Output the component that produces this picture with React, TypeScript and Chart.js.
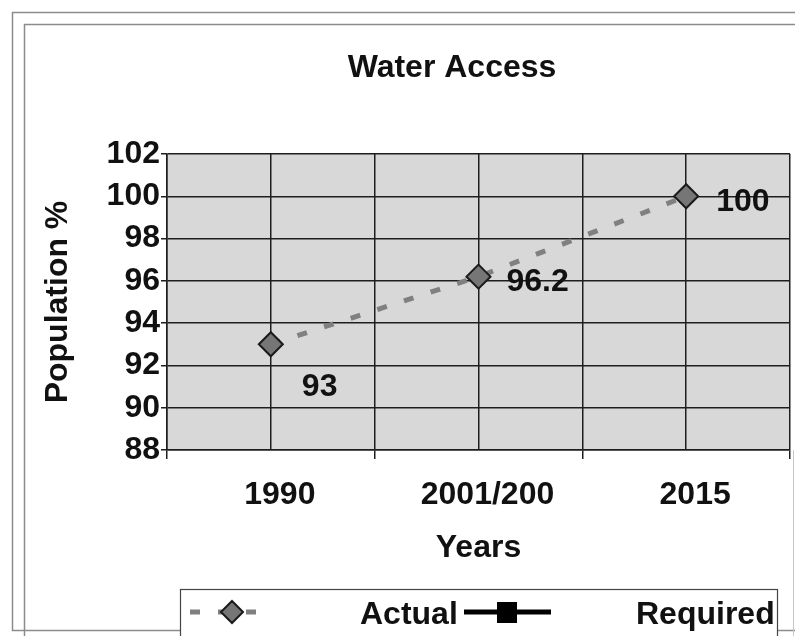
import React, { useEffect, useRef } from 'react';
import { Chart, registerables } from 'chart.js';

Chart.register(...registerables);

// ---------------- data ----------------
const categories = ['1990', '2001/200', '2015'];
const actualValues = [93, 96.2, 100];
const requiredValues: (number | null)[] = [null, null, null];
const yTickValues = [88, 90, 92, 94, 96, 98, 100, 102];
const chartTitle = 'Water Access';
const xAxisTitle = 'Years';
const yAxisTitle = 'Population %';
const seriesNames = ['Actual', 'Required'];

// ---------------- styles ----------------
const FONT = '"Liberation Sans", Arial, Helvetica, sans-serif';
const INK = '#111111';
const GRID = '#1e1e1e';

const boldFont = { family: FONT, size: 32, weight: 'bold' as const, lineHeight: 1.2 };

const framePlugin = {
  id: 'excelFrame',
  beforeDraw(chart: any) {
    const { ctx, chartArea: a } = chart;
    ctx.save();
    ctx.fillStyle = '#ffffff';
    ctx.fillRect(0, 0, chart.width, chart.height);
    ctx.strokeStyle = '#8c8c8c';
    ctx.lineWidth = 1.5;
    ctx.beginPath();
    ctx.moveTo(chart.width + 10, 12.5);
    ctx.lineTo(12.5, 12.5);
    ctx.lineTo(12.5, 630.5);
    ctx.lineTo(chart.width + 10, 630.5);
    ctx.moveTo(chart.width + 10, 24.5);
    ctx.lineTo(24.5, 24.5);
    ctx.lineTo(24.5, chart.height + 10);
    ctx.stroke();
    ctx.strokeStyle = '#c8c8c8';
    ctx.lineWidth = 1;
    ctx.beginPath();
    ctx.moveTo(793.5, a.bottom);
    ctx.lineTo(793.5, chart.height + 10);
    ctx.stroke();
    ctx.fillStyle = '#d8d8d8';
    ctx.fillRect(a.left, a.top, a.right - a.left, a.bottom - a.top);
    ctx.restore();
  },
};

const titlePlugin = {
  id: 'excelTitle',
  afterDraw(chart: any, _args: any, opts: any) {
    const ctx = chart.ctx;
    ctx.save();
    ctx.font = `bold 32px ${FONT}`;
    ctx.fillStyle = INK;
    ctx.textAlign = 'center';
    ctx.textBaseline = 'middle';
    ctx.fillText(opts.text, opts.x, opts.y);
    ctx.restore();
  },
};

const valueLabelPlugin = {
  id: 'valueLabels',
  afterDatasetsDraw(chart: any, _args: any, opts: any) {
    const ctx = chart.ctx;
    const meta = chart.getDatasetMeta(0);
    const ds = chart.data.datasets[0];
    ctx.save();
    ctx.font = `bold 32px ${FONT}`;
    ctx.fillStyle = INK;
    ctx.textAlign = 'left';
    ctx.textBaseline = 'middle';
    meta.data.forEach((pt: any, i: number) => {
      const raw = ds.data[i];
      if (raw == null || raw.y == null) return;
      const off = opts.offsets[i] || [30, 6];
      ctx.fillText(String(raw.y), pt.x + off[0], pt.y + off[1]);
    });
    ctx.restore();
  },
};

const legendPlugin = {
  id: 'excelLegend',
  afterDraw(chart: any) {
    const ctx = chart.ctx;
    const d0 = chart.data.datasets[0];
    const d1 = chart.data.datasets[1];
    ctx.save();
    ctx.fillStyle = '#ffffff';
    ctx.fillRect(180, 589, 597, 60);
    ctx.strokeStyle = '#444444';
    ctx.lineWidth = 1.2;
    ctx.strokeRect(180.5, 589.5, 597, 60);

    const cy = 612;
    // Actual: dashed line + diamond
    ctx.strokeStyle = d0.borderColor;
    ctx.lineWidth = d0.borderWidth;
    ctx.setLineDash(d0.borderDash);
    ctx.beginPath();
    ctx.moveTo(190, cy);
    ctx.lineTo(258, cy);
    ctx.stroke();
    ctx.setLineDash([]);
    const r = 11;
    const mx = 232;
    ctx.beginPath();
    ctx.moveTo(mx, cy - r);
    ctx.lineTo(mx + r, cy);
    ctx.lineTo(mx, cy + r);
    ctx.lineTo(mx - r, cy);
    ctx.closePath();
    ctx.fillStyle = d0.pointBackgroundColor;
    ctx.fill();
    ctx.strokeStyle = d0.pointBorderColor;
    ctx.lineWidth = 2;
    ctx.stroke();

    // Required: solid line + square
    ctx.strokeStyle = d1.borderColor;
    ctx.lineWidth = d1.borderWidth;
    ctx.beginPath();
    ctx.moveTo(464, cy);
    ctx.lineTo(551, cy);
    ctx.stroke();
    ctx.fillStyle = d1.pointBackgroundColor;
    ctx.fillRect(497, cy - 10, 20, 21);

    ctx.font = `bold 32px ${FONT}`;
    ctx.fillStyle = INK;
    ctx.textAlign = 'left';
    ctx.textBaseline = 'middle';
    ctx.fillText(d0.label, 360, cy + 3);
    ctx.fillText(d1.label, 636, cy + 3);
    ctx.restore();
  },
};

export default function App() {
  const canvasRef = useRef<HTMLCanvasElement | null>(null);

  useEffect(() => {
    const canvas = canvasRef.current;
    if (!canvas) return;
    const yStep = yTickValues[1] - yTickValues[0];

    const chart = new Chart(canvas, {
      type: 'line',
      data: {
        datasets: [
          {
            label: seriesNames[0],
            data: actualValues.map((v, i) => ({ x: i, y: v })),
            borderColor: '#808080',
            borderWidth: 5,
            borderDash: [10, 18],
            borderCapStyle: 'butt',
            pointStyle: 'rectRot',
            pointRadius: 12,
            pointBackgroundColor: '#767676',
            pointBorderColor: '#1a1a1a',
            pointBorderWidth: 2,
            fill: false,
            tension: 0,
          } as any,
          {
            label: seriesNames[1],
            data: requiredValues.map((v, i) => ({ x: i, y: v })),
            borderColor: '#000000',
            borderWidth: 5,
            pointStyle: 'rect',
            pointRadius: 10,
            pointBackgroundColor: '#000000',
            pointBorderColor: '#000000',
            fill: false,
            spanGaps: false,
          } as any,
        ],
      },
      options: {
        responsive: false,
        animation: false,
        devicePixelRatio: 1,
        layout: { autoPadding: false, padding: { left: 0, top: 154, right: 5, bottom: 0 } },
        scales: {
          x: {
            type: 'linear',
            min: -0.5,
            max: categories.length - 0.5,
            afterFit: (scale: any) => {
              scale.height = 186;
              scale.paddingLeft = 0;
              scale.paddingRight = 0;
            },
            ticks: {
              stepSize: 0.5,
              autoSkip: false,
              maxRotation: 0,
              minRotation: 0,
              includeBounds: true,
              padding: 17,
              labelOffset: 9,
              color: INK,
              font: boldFont,
              callback: (v: any) => (Number.isInteger(v) ? categories[v] ?? '' : ''),
            },
            grid: {
              color: GRID,
              lineWidth: 1.5,
              tickLength: 9,
              tickColor: (c: any) =>
                c.tick && Number.isInteger(c.tick.value) ? 'rgba(0,0,0,0)' : GRID,
            },
            border: { display: true, color: GRID, width: 1.5 },
            title: {
              display: true,
              text: xAxisTitle,
              color: INK,
              font: boldFont,
              padding: { top: 0, bottom: 69 },
            },
          },
          y: {
            min: yTickValues[0],
            max: yTickValues[yTickValues.length - 1],
            afterFit: (scale: any) => {
              scale.width = 167;
            },
            ticks: {
              stepSize: yStep,
              padding: 1,
              color: INK,
              font: boldFont,
            },
            grid: { color: GRID, lineWidth: 1.5, tickLength: 6 },
            border: { display: true, color: GRID, width: 1.5 },
            title: {
              display: true,
              text: yAxisTitle,
              color: INK,
              font: boldFont,
              padding: { top: 39, bottom: 0 },
            },
          },
        },
        plugins: {
          legend: { display: false },
          title: { display: false },
          tooltip: { enabled: false },
          excelTitle: { text: chartTitle, x: 452, y: 68 },
          valueLabels: { offsets: [[31, 43], [28, 6], [30, 6]] },
        } as any,
      },
      plugins: [framePlugin, titlePlugin, valueLabelPlugin, legendPlugin],
    });

    return () => chart.destroy();
  }, []);

  return (
    <div style={{ position: 'absolute', left: 0, top: 0, width: 795, height: 636, overflow: 'hidden' }}>
      <canvas ref={canvasRef} width={795} height={636} style={{ display: 'block' }} />
    </div>
  );
}
